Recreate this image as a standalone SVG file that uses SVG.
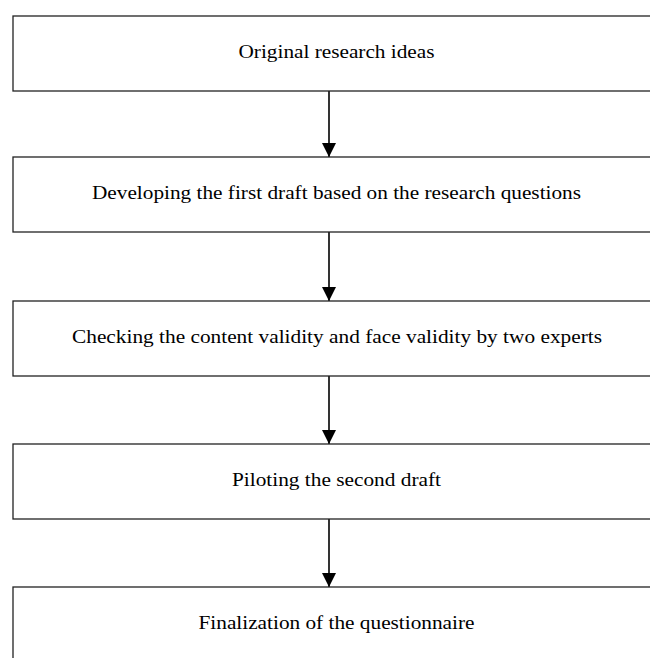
<svg xmlns="http://www.w3.org/2000/svg" width="650" height="658" viewBox="0 0 650 658">
<defs>
<style>
.box{fill:#ffffff;stroke:#222222;stroke-width:1.3}
.lbl{font-family:"Liberation Serif","Times New Roman",serif;font-size:19.5px;fill:#000000;text-anchor:middle}
.con{stroke:#000000;stroke-width:1.6;fill:none}
</style>
<marker id="ah" viewBox="0 0 14 14" refX="14" refY="7" markerWidth="14" markerHeight="14" markerUnits="userSpaceOnUse" orient="auto">
<path d="M0,0 L14,7 L0,14 Z" fill="#000000"/>
</marker>
</defs>
<rect width="650" height="658" fill="#ffffff"/>
<g id="connectors">
<line class="con" x1="329" y1="91" x2="329" y2="157" marker-end="url(#ah)"/>
<line class="con" x1="329" y1="232" x2="329" y2="301" marker-end="url(#ah)"/>
<line class="con" x1="329" y1="376" x2="329" y2="444" marker-end="url(#ah)"/>
<line class="con" x1="329" y1="519" x2="329" y2="587" marker-end="url(#ah)"/>
</g>
<g id="node1">
<rect class="box" x="13" y="16" width="660" height="75"/>
<text class="lbl" x="336.5" y="58" textLength="196" lengthAdjust="spacingAndGlyphs">Original research ideas</text>
</g>
<g id="node2">
<rect class="box" x="13" y="157" width="660" height="75"/>
<text class="lbl" x="336.5" y="199" textLength="489" lengthAdjust="spacingAndGlyphs">Developing the first draft based on the research questions</text>
</g>
<g id="node3">
<rect class="box" x="13" y="301" width="660" height="75"/>
<text class="lbl" x="337" y="343" textLength="530" lengthAdjust="spacingAndGlyphs">Checking the content validity and face validity by two experts</text>
</g>
<g id="node4">
<rect class="box" x="13" y="444" width="660" height="75"/>
<text class="lbl" x="336.5" y="486" textLength="209" lengthAdjust="spacingAndGlyphs">Piloting the second draft</text>
</g>
<g id="node5">
<rect class="box" x="13" y="587" width="660" height="100"/>
<text class="lbl" x="336.5" y="629" textLength="276" lengthAdjust="spacingAndGlyphs">Finalization of the questionnaire</text>
</g>
</svg>
